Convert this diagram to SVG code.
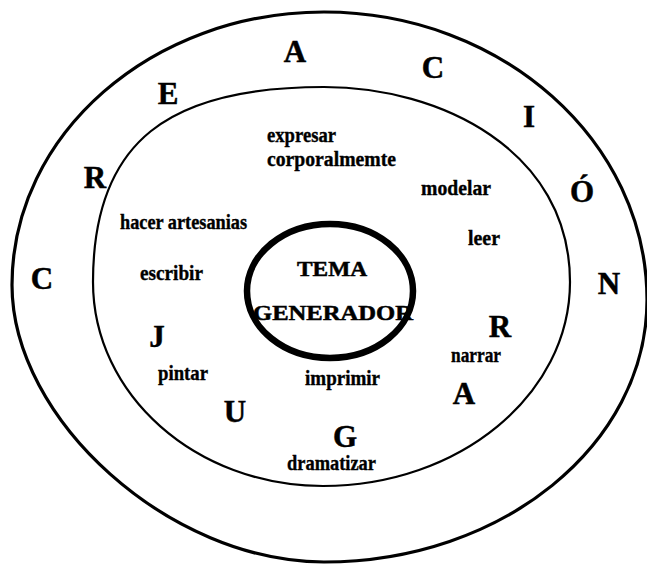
<svg xmlns="http://www.w3.org/2000/svg" width="647" height="564" viewBox="0 0 647 564">
<style>
.ring{fill:none;stroke:#000;stroke-width:3.2}
.inner{fill:none;stroke:#000;stroke-width:2.2}
.core{fill:#fff;stroke:#000;stroke-width:6.5}
.big{font-family:"Liberation Serif",serif;font-weight:bold;font-size:31px;fill:#000;stroke:#000;stroke-width:0.5;text-anchor:middle}
.lbl{font-family:"Liberation Serif",serif;font-weight:bold;font-size:20px;fill:#000;stroke:#000;stroke-width:0.35}
.ctr{font-family:"Liberation Serif",serif;font-weight:bold;font-size:21px;fill:#000;stroke:#000;stroke-width:0.5;text-anchor:middle}
</style>
<rect width="647" height="564" fill="#fff"/>
<g id="outer-ring">
<path class="ring" d="M12,285 C12,134 152,12 324,12 C502,12 647,141 647,300 C647,445 502,562 324,562 C170,562 12,420 12,285 Z"/>
<text class="big" x="295" y="62">A</text>
<text class="big" x="433" y="78">C</text>
<text class="big" x="168" y="104">E</text>
<text class="big" x="529" y="127">I</text>
<text class="big" x="95" y="188">R</text>
<text class="big" x="582" y="202">Ó</text>
<text class="big" x="42" y="289">C</text>
<text class="big" x="609" y="294">N</text>
<text class="big" x="157" y="347">J</text>
<text class="big" x="500" y="337">R</text>
<text class="big" x="464" y="404">A</text>
<text class="big" x="235" y="422">U</text>
<text class="big" x="345" y="447">G</text>
</g>
<g id="inner-ring">
<path class="inner" d="M93,282 C93,140 170,87 324,87 C440,87 570,150 570,282 C570,395 459,486 323,486 C196,486 93,395 93,282 Z"/>
<text class="lbl" x="267" y="142" textLength="69" lengthAdjust="spacingAndGlyphs">expresar</text>
<text class="lbl" x="267" y="166" textLength="129" lengthAdjust="spacingAndGlyphs">corporalmemte</text>
<text class="lbl" x="421" y="195" textLength="70" lengthAdjust="spacingAndGlyphs">modelar</text>
<text class="lbl" x="120" y="229" textLength="127" lengthAdjust="spacingAndGlyphs">hacer artesanias</text>
<text class="lbl" x="468" y="245" textLength="32" lengthAdjust="spacingAndGlyphs">leer</text>
<text class="lbl" x="140" y="280" textLength="63" lengthAdjust="spacingAndGlyphs">escribir</text>
<text class="lbl" x="158" y="380" textLength="50" lengthAdjust="spacingAndGlyphs">pintar</text>
<text class="lbl" x="305" y="385" textLength="75" lengthAdjust="spacingAndGlyphs">imprimir</text>
<text class="lbl" x="451" y="362" textLength="50" lengthAdjust="spacingAndGlyphs">narrar</text>
<text class="lbl" x="287" y="470" textLength="89" lengthAdjust="spacingAndGlyphs">dramatizar</text>
</g>
<g id="tema-generador">
<ellipse class="core" cx="330" cy="291" rx="83" ry="67"/>
<text class="ctr" x="332" y="276" textLength="70" lengthAdjust="spacingAndGlyphs">TEMA</text>
<text class="ctr" x="333" y="320" textLength="160" lengthAdjust="spacingAndGlyphs">GENERADOR</text>
</g>
</svg>
